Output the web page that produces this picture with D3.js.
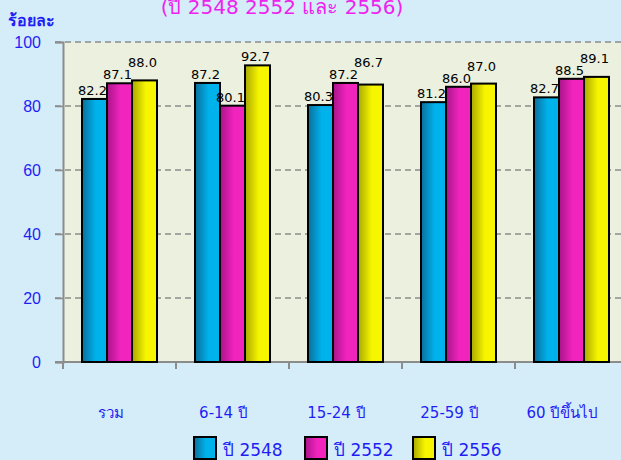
<!DOCTYPE html>
<html>
<head>
<meta charset="utf-8">
<script src="https://cdn.jsdelivr.net/npm/d3@7"></script>
<style>
body { margin: 0; background: #d5edf9; }
svg { display: block; font-family: Tahoma, "DejaVu Sans", sans-serif; }
</style>
</head>
<body>
<div id="container"></div>
<script>
var width = 621;
var height = 460;

var categories = ["รวม", "6-14 ปี", "15-24 ปี", "25-59 ปี", "60 ปีขึ้นไป"];
var seriesNames = ["ปี 2548", "ปี 2552", "ปี 2556"];
var v2548 = [82.2, 87.2, 80.3, 81.2, 82.7];
var v2552 = [87.1, 80.1, 87.2, 86.0, 88.5];
var v2556 = [88.0, 92.7, 86.7, 87.0, 89.1];
var yTicks = [0, 20, 40, 60, 80, 100];

var series = [v2548, v2552, v2556];
var gradColors = [["#0a6f9c", "#00b2ec"], ["#a8148a", "#f224be"], ["#a9a800", "#f7f500"]];

var svg = d3.select("#container").append("svg")
    .attr("width", width)
    .attr("height", height);

var plotLeft = 63, plotTop = 42, plotBottom = 362;
var x = d3.scaleBand().domain(categories).range([plotLeft, plotLeft + 113 * 5]);
var y = d3.scaleLinear().domain([0, 100]).range([plotBottom, plotTop]);
var xs = d3.scaleBand().domain([0, 1, 2]).range([0, 75]);

var defs = svg.append("defs");
gradColors.forEach(function(c, i) {
    var g = defs.append("linearGradient").attr("id", "g" + i)
        .attr("x1", "0%").attr("x2", "100%").attr("y1", "0%").attr("y2", "0%");
    g.append("stop").attr("offset", "0%").attr("stop-color", c[0]);
    g.append("stop").attr("offset", "55%").attr("stop-color", c[1]);
    g.append("stop").attr("offset", "100%").attr("stop-color", c[1]);
});

// plot background
svg.append("rect")
    .attr("x", plotLeft).attr("y", plotTop)
    .attr("width", width - plotLeft).attr("height", plotBottom - plotTop)
    .attr("fill", "#ecf0df");

// grid
svg.append("g").selectAll("line")
    .data(yTicks.filter(function(d) { return d > 0; }))
    .enter().append("line")
    .attr("x1", plotLeft - 8).attr("x2", width)
    .attr("y1", function(d) { return y(d); })
    .attr("y2", function(d) { return y(d); })
    .attr("stroke", "#8c8c8c")
    .attr("stroke-width", 1.5)
    .attr("stroke-dasharray", "6,4");

// y axis
var yAxis = d3.axisLeft(y).tickValues(yTicks).tickSize(8).tickPadding(14);
var ya = svg.append("g").attr("transform", "translate(" + plotLeft + ",0)").call(yAxis);
ya.select(".domain").attr("stroke", "#8c8c8c").attr("stroke-width", 2);
ya.selectAll(".tick line").attr("stroke", "#8c8c8c").attr("stroke-width", 1.5);
ya.selectAll(".tick text")
    .attr("fill", "#1f1ff5")
    .style("font-size", "16px");

// x axis
svg.append("line")
    .attr("x1", plotLeft - 8).attr("x2", width)
    .attr("y1", plotBottom).attr("y2", plotBottom)
    .attr("stroke", "#8c8c8c").attr("stroke-width", 2);
svg.append("g").selectAll("line")
    .data(categories)
    .enter().append("line")
    .attr("x1", function(d) { return x(d); })
    .attr("x2", function(d) { return x(d); })
    .attr("y1", plotBottom).attr("y2", plotBottom + 7)
    .attr("stroke", "#8c8c8c").attr("stroke-width", 2);

svg.append("g").selectAll("text")
    .data(categories)
    .enter().append("text")
    .attr("x", function(d) { return x(d) + x.bandwidth() / 2 - 9; })
    .attr("y", 418)
    .attr("text-anchor", "middle")
    .attr("fill", "#1f1ff5")
    .style("font-size", "15px")
    .text(function(d) { return d; });

// bars
var groups = svg.append("g").selectAll("g")
    .data(categories)
    .enter().append("g")
    .attr("transform", function(d) { return "translate(" + (x(d) + (x.bandwidth() - 75) / 2) + ",0)"; });

series.forEach(function(vals, si) {
    groups.append("rect")
        .attr("x", xs(si))
        .attr("y", function(d, i) { return y(vals[i]); })
        .attr("width", xs.bandwidth())
        .attr("height", function(d, i) { return plotBottom - y(vals[i]); })
        .attr("fill", "url(#g" + si + ")")
        .attr("stroke", "#000")
        .attr("stroke-width", 2);
});

// value labels, lifted when they would collide with the neighbour's label
categories.forEach(function(c, i) {
    var prev = null;
    series.forEach(function(vals, si) {
        var base = y(vals[i]) - 4;
        if (prev !== null && Math.abs(base - prev) < 12) base = prev - 12;
        prev = base;
        groups.filter(function(d) { return d === c; }).append("text")
            .attr("x", xs(si) + xs.bandwidth() / 2 - 2)
            .attr("y", base)
            .attr("text-anchor", "middle")
            .attr("fill", "#000")
            .style("font-size", "13px")
            .text(vals[i].toFixed(1));
    });
});

// title and unit
svg.append("text")
    .attr("x", 282).attr("y", 14)
    .attr("text-anchor", "middle")
    .attr("fill", "#ee22ee")
    .style("font-size", "20px")
    .text("(ปี 2548 2552 และ 2556)");

svg.append("text")
    .attr("x", 8).attr("y", 26)
    .attr("fill", "#1f1ff5")
    .style("font-size", "16px")
    .style("font-weight", "bold")
    .text("ร้อยละ");

// legend
var legendX = [194, 305, 413];
var legend = svg.append("g").selectAll("g")
    .data(seriesNames)
    .enter().append("g")
    .attr("transform", function(d, i) { return "translate(" + legendX[i] + ",437)"; });
legend.append("rect")
    .attr("width", 22).attr("height", 22)
    .attr("fill", function(d, i) { return "url(#g" + i + ")"; })
    .attr("stroke", "#000").attr("stroke-width", 2);
legend.append("text")
    .attr("x", 29).attr("y", 19)
    .attr("fill", "#1f1ff5")
    .style("font-size", "17px")
    .text(function(d) { return d; });
</script>
</body>
</html>
